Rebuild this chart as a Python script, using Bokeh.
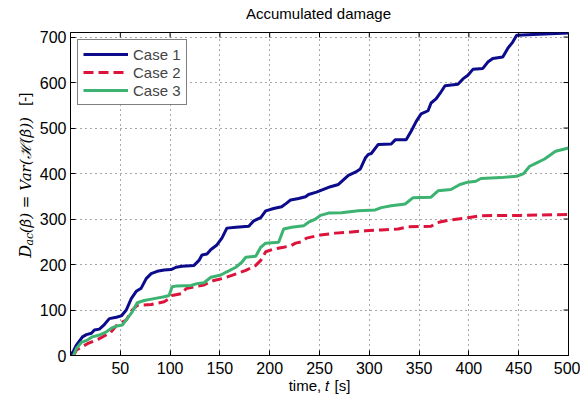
import numpy as np
from bokeh.plotting import figure
from bokeh.layouts import row, column
from bokeh.models import FixedTicker
from bokeh.core.properties import value
from bokeh.embed import file_html
from bokeh.resources import INLINE

# ---------------- data ----------------
case1_t = [0, 3, 6, 12, 16, 21, 24, 29, 34, 39, 46, 51, 56, 61, 66, 71, 76, 81, 87, 94,
           101, 106, 112, 124, 129, 132, 137, 141, 147, 152, 157, 166, 179, 184, 191, 196,
           204, 212, 217, 221, 229, 236, 239, 247, 254, 261, 269, 274, 279, 286, 291, 296,
           299, 302, 309, 322, 326, 337, 342, 347, 352, 359, 362, 367, 371, 376, 389, 394,
           399, 404, 414, 419, 424, 434, 439, 444, 448, 470, 500]
case1_v = [0, 10, 23, 41, 46, 49, 56, 58, 68, 81, 84, 87, 100, 125, 141, 148, 169, 180, 185, 188,
           189, 194, 196, 198, 209, 221, 223, 233, 243, 258, 280, 282, 284, 296, 303, 318,
           323, 327, 335, 342, 345, 349, 354, 359, 365, 371, 376, 386, 396, 403, 410, 434,
           442, 444, 464, 465, 474, 474, 493, 514, 531, 538, 555, 564, 576, 593, 596, 608,
           616, 629, 631, 645, 653, 656, 675, 689, 704, 706, 709]

case2_t = [3, 6, 17, 28, 40, 47, 56, 62, 67, 81, 94, 99, 102, 112, 116, 127, 134, 144, 154,
           162, 176, 186, 191, 196, 204, 214, 221, 226, 232, 237, 251, 266, 279, 296, 312,
           329, 339, 362, 367, 372, 382, 399, 412, 432, 452, 500]
case2_v = [0, 12, 26, 36, 50, 68, 78, 100, 110, 112, 118, 125, 132, 136, 147, 152, 155, 165, 170,
           176, 187, 198, 209, 228, 234, 238, 241, 247, 250, 258, 265, 269, 271, 274, 276,
           278, 283, 284, 291, 294, 298, 303, 307, 308, 308, 310]

case3_t = [3, 6, 11, 17, 22, 29, 36, 41, 47, 52, 57, 62, 67, 74, 84, 94, 99, 102, 107, 121,
           127, 134, 141, 151, 157, 166, 172, 176, 186, 191, 196, 209, 214, 222, 234, 239,
           246, 251, 259, 272, 289, 306, 312, 322, 336, 344, 362, 369, 382, 391, 399, 407,
           412, 432, 448, 455, 461, 465, 476, 487, 500]
case3_v = [0, 16, 29, 34, 41, 45, 52, 60, 65, 67, 81, 96, 116, 121, 125, 129, 132, 151, 153, 154,
           158, 160, 172, 177, 184, 194, 205, 216, 218, 238, 247, 249, 278, 282, 285, 293,
           300, 308, 313, 314, 318, 320, 325, 329, 333, 347, 348, 362, 365, 376, 381, 383,
           389, 391, 394, 400, 416, 420, 432, 449, 456]

x_ticks = [50, 100, 150, 200, 250, 300, 350, 400, 450, 500]
y_ticks = [0, 100, 200, 300, 400, 500, 600, 700]

title_text = "Accumulated damage"
x_label = "time, 𝑡 [s]"
legend_labels = ["Case 1", "Case 2", "Case 3"]
# y-axis label pieces: D_ac(β̇) = Var(ℋ(β̇))  [-]
ylab_pieces = ["D", "ac", "(β̇) = Var(ℋ(β̇))", "[-]"]

SANS = "Liberation Sans"
MATH = "DejaVu Serif"
X0, X1, Y0, Y1 = 0, 500, 0, 710
W, H = 580, 396
STRIP = 36      # width of the y-label strip
TOP = 26        # height of the title strip


def blank_strip(width, height, xr, yr):
    f = figure(width=width, height=height, output_backend="svg", toolbar_location=None,
               title=None, x_range=xr, y_range=yr, x_axis_location=None, y_axis_location=None,
               min_border=0, min_border_left=0, min_border_right=0, min_border_top=0,
               min_border_bottom=0)
    f.outline_line_color = None
    f.grid.visible = False
    f.background_fill_color = "white"
    f.border_fill_color = "white"
    return f


# ---------------- title strip ----------------
T = blank_strip(W, TOP, (0, W), (0, TOP))
T.text(x=[318], y=[13], text=[title_text], text_font=value(SANS), text_font_size="15px",
       text_align="center", text_baseline="middle", text_color="black")

# ---------------- main plot ----------------
p = figure(width=W - STRIP, height=H - TOP, output_backend="svg", toolbar_location=None,
           title=None, x_range=(X0, X1), y_range=(Y0, Y1),
           min_border_left=68 - STRIP, min_border_right=12, min_border_top=32 - TOP,
           min_border_bottom=39)
p.background_fill_color = "white"
p.border_fill_color = "white"
p.outline_line_color = "black"
p.outline_line_width = 1

p.line(case1_t, case1_v, line_color="#0b0b8b", line_width=3, legend_label=legend_labels[0])
p.line(case2_t, case2_v, line_color="#dc143c", line_width=3, line_dash="10 5", legend_label=legend_labels[1])
p.line(case3_t, case3_v, line_color="#3cb371", line_width=3, legend_label=legend_labels[2])

for ax in (p.xaxis[0], p.yaxis[0]):
    ax.major_tick_in = 5
    ax.major_tick_out = 0
    ax.minor_tick_line_color = None
    ax.axis_line_color = "black"
    ax.major_tick_line_color = "black"
    ax.major_label_text_font = SANS
    ax.major_label_text_font_size = "16px"
    ax.major_label_text_color = "black"
p.xaxis[0].ticker = FixedTicker(ticks=x_ticks)
p.yaxis[0].ticker = FixedTicker(ticks=y_ticks)
p.xaxis[0].major_label_standoff = 6
p.yaxis[0].major_label_standoff = 4
p.xaxis[0].axis_label = x_label
p.xaxis[0].axis_label_text_font = SANS
p.xaxis[0].axis_label_text_font_size = "15px"
p.xaxis[0].axis_label_text_font_style = "normal"
p.xaxis[0].axis_label_text_color = "black"
p.xaxis[0].axis_label_standoff = 0

# mirrored inward ticks on top and right (from the tick arrays)
tick_len_x = 5.0 * (X1 - X0) / 500.0
tick_len_y = 5.0 * (Y1 - Y0) / 325.0
p.segment(x0=x_ticks, x1=x_ticks, y0=[Y1] * len(x_ticks), y1=[Y1 - tick_len_y] * len(x_ticks),
          line_color="black", line_width=1)
p.segment(x0=[X1] * len(y_ticks), x1=[X1 - tick_len_x] * len(y_ticks), y0=y_ticks, y1=y_ticks,
          line_color="black", line_width=1)

for g in (p.xgrid[0], p.ygrid[0]):
    g.grid_line_color = "#333333"
    g.grid_line_alpha = 0.85
    g.grid_line_dash = "1 4"
    g.grid_line_width = 1
p.xgrid[0].ticker = FixedTicker(ticks=x_ticks)
p.ygrid[0].ticker = FixedTicker(ticks=y_ticks)

lg = p.legend[0]
lg.location = "top_left"
lg.margin = 7
lg.padding = 5
lg.spacing = 0
lg.glyph_width = 45
lg.glyph_height = 18
lg.label_height = 18
lg.label_standoff = 5
lg.label_text_font = SANS
lg.label_text_font_size = "15px"
lg.border_line_color = "black"
lg.border_line_width = 1
lg.background_fill_color = "white"
lg.background_fill_alpha = 1

# ---------------- y-axis label strip ----------------
L = blank_strip(STRIP, H - TOP, (0, STRIP), (0, H - TOP))

# (baseline x, start y measured from the window top, font, style, size)
piece_style = [
    (25, 284, MATH, "italic", "16px"),
    (29, 270, MATH, "italic", "11px"),
    (25, 256, MATH, "italic", "15px"),
    (24, 110, SANS, "normal", "15px"),
]
ang = np.pi / 2
for txt, (bx, sy, fnt, sty, fsz) in zip(ylab_pieces, piece_style):
    L.text(x=[bx], y=[H - sy], text=[txt], angle=ang, text_font=value(fnt),
           text_font_style=sty, text_font_size=fsz, text_baseline="alphabetic",
           text_align="left", text_color="black")

layout = column(T, row(L, p, spacing=0), spacing=0)
open("out.html", "w").write(file_html(layout, INLINE))
